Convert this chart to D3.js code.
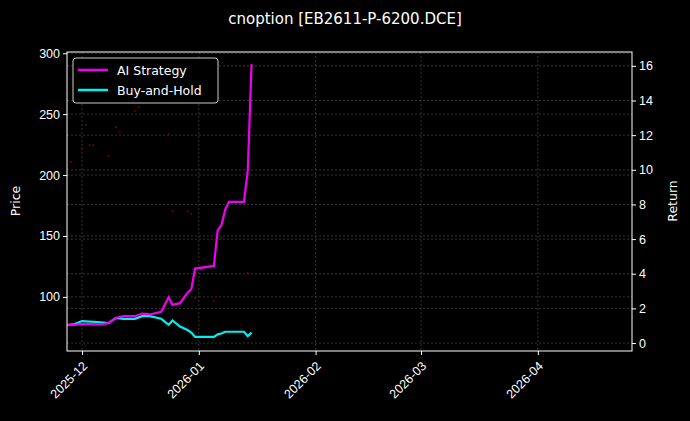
<!DOCTYPE html>
<html><head><meta charset="utf-8">
<script src="https://cdn.jsdelivr.net/npm/d3@7"></script>
<style>body{margin:0;background:#000}svg{font-family:"DejaVu Sans",sans-serif}</style>
</head><body><svg id="c" width="690" height="421"></svg>
<script>
const lineDates = ["2025-11-27","2025-11-29","2025-12-01","2025-12-06","2025-12-08","2025-12-10","2025-12-12","2025-12-15","2025-12-17","2025-12-19","2025-12-22","2025-12-24","2025-12-25","2025-12-27","2025-12-29","2025-12-30","2025-12-31","2026-01-05","2026-01-06","2026-01-07","2026-01-08","2026-01-09","2026-01-13","2026-01-14","2026-01-15"]
const aiReturn = [1.04,1.05,1.1,1.08,1.15,1.45,1.55,1.55,1.7,1.65,1.8,2.65,2.2,2.3,2.9,3.1,4.3,4.45,6.5,6.8,7.7,8.15,8.15,10,16.1]
const bhReturn = [1.04,1.1,1.27,1.2,1.15,1.45,1.4,1.4,1.55,1.55,1.4,1.05,1.3,0.95,0.75,0.6,0.35,0.35,0.5,0.55,0.65,0.65,0.65,0.4,0.6]
const priceDates = ["2025-11-28","2025-12-01","2025-12-02","2025-12-03","2025-12-04","2025-12-08","2025-12-10","2025-12-11","2025-12-15","2025-12-16","2025-12-24","2025-12-25","2025-12-29","2025-12-30","2025-12-31","2026-01-05","2026-01-07","2026-01-14"]
const prices = [210.7,222,241,224.6,224.6,215.6,239.3,235,252.5,255.7,233.6,170.5,170.5,168,99.2,96.7,149,119.7]
const xTicks = ["2025-12-01","2026-01-01","2026-02-01","2026-03-01","2026-04-01"]
const priceTicks = [100,150,200,250,300]
const returnTicks = [0,2,4,6,8,10,12,14,16]

const parse = d3.timeParse("%Y-%m-%d")
const svg = d3.select("#c")
const m = {l:67, r:632, t:52, b:351}
const x = d3.scaleTime().domain([parse("2025-11-27"), parse("2026-04-26")]).range([m.l, m.r])
const yP = d3.scaleLinear().domain([55.6, 301]).range([m.b, m.t])
const yR = d3.scaleLinear().domain([-0.46, 16.8]).range([m.b, m.t])

// grid
const g = svg.append("g").attr("stroke", "#555").attr("stroke-width", 0.6).attr("stroke-dasharray", "2,2")
xTicks.forEach(t => g.append("line").attr("x1", x(parse(t))).attr("x2", x(parse(t))).attr("y1", m.t).attr("y2", m.b))
priceTicks.forEach(t => g.append("line").attr("x1", m.l).attr("x2", m.r).attr("y1", yP(t)).attr("y2", yP(t)))
returnTicks.forEach(t => g.append("line").attr("x1", m.l).attr("x2", m.r).attr("y1", yR(t)).attr("y2", yR(t)))

// price dots
svg.append("g").selectAll("circle").data(priceDates).join("circle")
  .attr("cx", d => x(parse(d))).attr("cy", (d, i) => yP(prices[i])).attr("r", 0.9).attr("fill", "#8b0000")

const line = d3.line().x((d, i) => x(parse(lineDates[i]))).y(d => yR(d))
svg.append("path").attr("d", line(bhReturn)).attr("fill", "none").attr("stroke", "#00f0f0").attr("stroke-width", 2.2)
svg.append("path").attr("d", line(aiReturn)).attr("fill", "none").attr("stroke", "#f000f0").attr("stroke-width", 2.2)

// axes
const ax = svg.append("g").attr("transform", `translate(0,${m.b})`)
  .call(d3.axisBottom(x).tickValues(xTicks.map(parse)).tickFormat(d3.timeFormat("%Y-%m")).tickSize(4).tickSizeOuter(0))
ax.selectAll("text").attr("transform", "translate(-3,2) rotate(-45)").attr("text-anchor", "end").attr("dx", "-0.3em").attr("dy", "0.7em")
const al = svg.append("g").attr("transform", `translate(${m.l},0)`).call(d3.axisLeft(yP).tickValues(priceTicks).tickSize(4).tickSizeOuter(0))
const ar = svg.append("g").attr("transform", `translate(${m.r},0)`).call(d3.axisRight(yR).tickValues(returnTicks).tickSize(4).tickSizeOuter(0))
;[ax, al, ar].forEach(a => { a.selectAll("text").attr("fill", "#fff").attr("font-size", 12.5); a.selectAll("line").attr("stroke", "#fff"); a.select(".domain").remove() })
svg.append("rect").attr("x", m.l).attr("y", m.t).attr("width", m.r - m.l).attr("height", m.b - m.t).attr("fill", "none").attr("stroke", "#fff").attr("stroke-width", 1)

svg.append("text").attr("x", 345).attr("y", 24).attr("text-anchor", "middle").attr("fill", "#fff").attr("font-size", 15).text("cnoption [EB2611-P-6200.DCE]")
svg.append("text").attr("transform", "translate(20,201) rotate(-90)").attr("text-anchor", "middle").attr("fill", "#fff").attr("font-size", 12.5).text("Price")
svg.append("text").attr("transform", "translate(677,201) rotate(-90)").attr("text-anchor", "middle").attr("fill", "#fff").attr("font-size", 12.5).text("Return")

// legend
const lg = svg.append("g")
lg.append("rect").attr("x", 73).attr("y", 58).attr("width", 145).attr("height", 45).attr("rx", 3).attr("fill", "#000").attr("stroke", "#ccc")
;[["AI Strategy", "#f000f0"], ["Buy-and-Hold", "#00f0f0"]].forEach(([t, c], i) => {
  const yy = 70 + i * 20
  lg.append("line").attr("x1", 78).attr("x2", 108).attr("y1", yy).attr("y2", yy).attr("stroke", c).attr("stroke-width", 2.5)
  lg.append("text").attr("x", 117).attr("y", yy + 4.5).attr("fill", "#fff").attr("font-size", 12.5).text(t)
})
</script></body></html>
